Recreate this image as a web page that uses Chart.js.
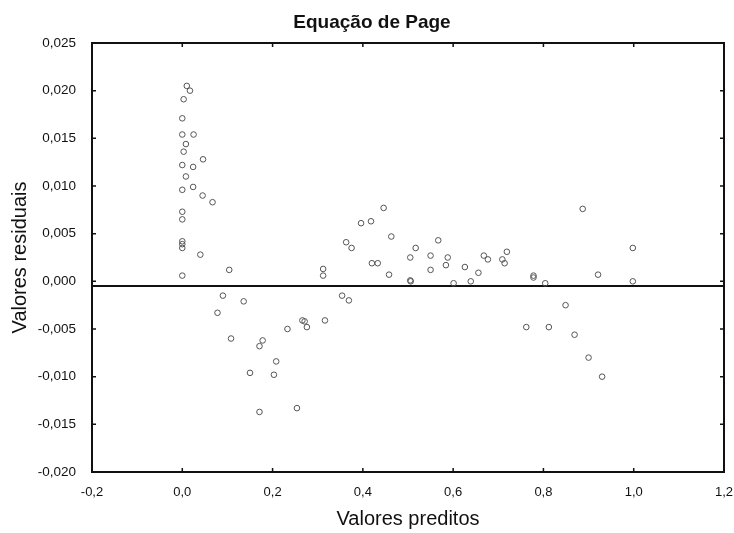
<!DOCTYPE html>
<html>
<head>
<meta charset="utf-8">
<script src="https://cdn.jsdelivr.net/npm/chart.js@4.4.0/dist/chart.umd.min.js"></script>
<style>
  html, body { margin: 0; padding: 0; background: #fff; }
  #wrap { width: 734px; height: 533px; }
</style>
</head>
<body>
<div id="wrap"><canvas id="myChart" width="734" height="533"></canvas></div>
<script>
var chartTitle = 'Equação de Page';
var xTitle = 'Valores preditos';
var yTitle = 'Valores residuais';

// predicted values (x) and residuals (y)
var predicted = [
  0.010, 0.017, 0.003, 0.000, 0.000, 0.025, 0.008, 0.003, 0.046, 0.000,
  0.024, 0.008, 0.000, 0.024, 0.045, 0.067, 0.000, 0.000, 0.000, 0.000,
  0.000, 0.040, 0.000, 0.104, 0.312, 0.312, 0.090, 0.136, 0.078, 0.354,
  0.369, 0.266, 0.271, 0.276, 0.316, 0.233, 0.108, 0.178, 0.171, 0.208,
  0.150, 0.203, 0.171, 0.254, 0.363, 0.375, 0.396, 0.418, 0.446, 0.463,
  0.420, 0.433, 0.458, 0.505, 0.517, 0.505, 0.506, 0.550, 0.550, 0.567,
  0.588, 0.584, 0.601, 0.626, 0.639, 0.656, 0.668, 0.677, 0.709, 0.714,
  0.719, 0.778, 0.778, 0.804, 0.762, 0.812, 0.887, 0.998, 0.921, 0.998,
  0.849, 0.869, 0.900, 0.930
];
var residuals = [
  0.0205, 0.0200, 0.0191, 0.0171, 0.0154, 0.0154, 0.0144, 0.0136, 0.0128, 0.0122,
  0.0120, 0.0110, 0.0096, 0.0099, 0.0090, 0.0083, 0.0073, 0.0065, 0.0042, 0.0039,
  0.0035, 0.0028, 0.0006, 0.0012, 0.0013, 0.0006, -0.0015, -0.0021, -0.0033, -0.0015,
  -0.0020, -0.0041, -0.0042, -0.0048, -0.0041, -0.0050, -0.0060, -0.0062, -0.0068, -0.0084,
  -0.0096, -0.0098, -0.0137, -0.0133, 0.0041, 0.0035, 0.0061, 0.0063, 0.0077, 0.0047,
  0.0019, 0.0019, 0.0007, 0.0025, 0.0035, 0.0001, 0.0000, 0.0027, 0.0012, 0.0043,
  0.0025, 0.0017, -0.0002, 0.0015, 0.0000, 0.0009, 0.0027, 0.0023, 0.0023, 0.0019,
  0.0031, 0.0006, 0.0004, -0.0002, -0.0048, -0.0048, 0.0076, 0.0035, 0.0007, 0.0000,
  -0.0025, -0.0056, -0.0080, -0.0100
];
var refLineY = -0.0005;
var xRange = [-0.2, 1.2];
var yRange = [-0.020, 0.025];

var points = [];
for (var i = 0; i < predicted.length; i++) {
  points.push({ x: predicted[i], y: residuals[i] });
}

var FONT = '"Liberation Sans", Arial, sans-serif';

function fmt(v, d) {
  if (Math.abs(v) < 1e-9) v = 0;
  return v.toFixed(d).replace('.', ',');
}

// chart title + inward tick marks on all four sides
var framePlugin = {
  id: 'frame',
  afterDraw: function (chart) {
    var ctx = chart.ctx, a = chart.chartArea;
    var xs = chart.scales.x, ys = chart.scales.y;
    ctx.save();
    ctx.strokeStyle = '#111';
    ctx.lineWidth = 2;
    ctx.strokeRect(a.left, a.top, a.right - a.left, a.bottom - a.top);
    ctx.lineWidth = 1.5;
    ctx.beginPath();
    xs.ticks.forEach(function (t) {
      var px = xs.getPixelForValue(t.value);
      ctx.moveTo(px, a.bottom); ctx.lineTo(px, a.bottom - 4);
      ctx.moveTo(px, a.top); ctx.lineTo(px, a.top + 4);
    });
    ys.ticks.forEach(function (t) {
      var py = ys.getPixelForValue(t.value);
      ctx.moveTo(a.left, py); ctx.lineTo(a.left + 4, py);
      ctx.moveTo(a.right, py); ctx.lineTo(a.right - 4, py);
    });
    ctx.stroke();
    ctx.fillStyle = '#111';
    ctx.font = 'bold 19px ' + FONT;
    ctx.textAlign = 'center';
    ctx.textBaseline = 'alphabetic';
    ctx.fillText(chartTitle, 372, 28);
    ctx.restore();
  }
};

const data = {
  datasets: [{
    type: 'line',
    label: 'zero',
    data: [{ x: xRange[0], y: refLineY }, { x: xRange[1], y: refLineY }],
    borderColor: '#111',
    borderWidth: 2,
    pointRadius: 0,
    order: 2
  }, {
    type: 'scatter',
    label: 'Resíduos',
    data: points,
    backgroundColor: 'rgba(0,0,0,0)',
    borderColor: '#555',
    borderWidth: 1,
    pointRadius: 2.8,
    order: 1
  }]
};

const config = {
  type: 'scatter',
  data: data,
  plugins: [framePlugin],
  options: {
    responsive: false,
    animation: false,
    layout: { padding: { top: 43, right: 10, bottom: 0, left: 0 } },
    plugins: {
      legend: { display: false },
      tooltip: { enabled: false }
    },
    scales: {
      x: {
        type: 'linear',
        min: xRange[0],
        max: xRange[1],
        afterFit: function (s) {
          s.height = 61;
          s.paddingLeft = 0;
          s.paddingRight = 0;
        },
        border: { display: false },
        grid: { display: false },
        ticks: {
          stepSize: 0.2,
          padding: 5,
          color: '#111',
          font: { family: FONT, size: 13 },
          maxRotation: 0,
          callback: function (v) { return fmt(v, 1); }
        },
        title: {
          display: true,
          text: xTitle,
          color: '#111',
          font: { family: FONT, size: 20 },
          padding: { top: 0, bottom: 2 }
        }
      },
      y: {
        type: 'linear',
        min: yRange[0],
        max: yRange[1],
        afterFit: function (s) { s.width = 92; },
        border: { display: false },
        grid: { display: false },
        ticks: {
          stepSize: 0.005,
          padding: 8,
          color: '#111',
          font: { family: FONT, size: 13.5 },
          callback: function (v) { return fmt(v, 3); }
        },
        title: {
          display: true,
          text: yTitle,
          color: '#111',
          font: { family: FONT, size: 20 },
          padding: { top: 8, bottom: 0 }
        }
      }
    }
  }
};

const myChart = new Chart(document.getElementById('myChart'), config);
</script>
</body>
</html>
